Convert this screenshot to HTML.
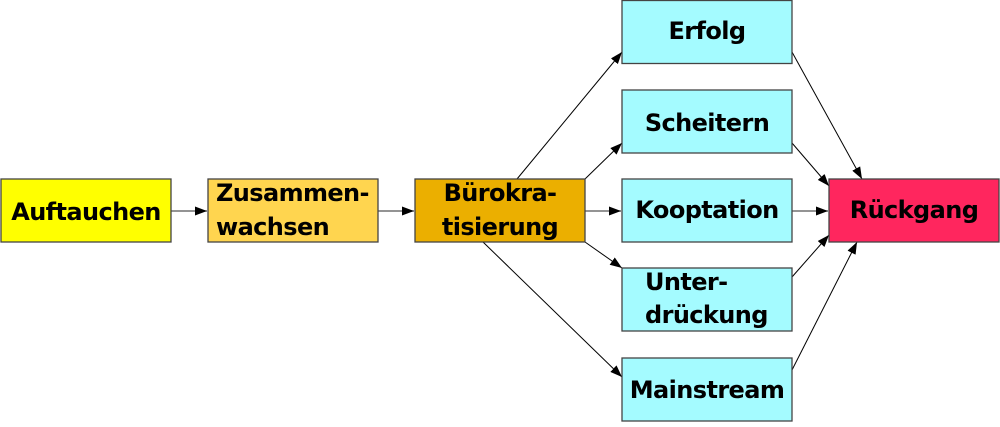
<!DOCTYPE html>
<html><head><meta charset="utf-8"><style>
html,body{margin:0;padding:0;background:#fff;}
svg text{font-family:"DejaVu Sans","Liberation Sans",sans-serif;font-weight:bold;font-size:24px;letter-spacing:-0.6px;fill:#000;}
</style></head><body>
<svg width="1000" height="422" viewBox="0 0 1000 422" xmlns="http://www.w3.org/2000/svg">
<defs>
<marker id="a" markerWidth="12" markerHeight="9" refX="12" refY="4.5" orient="auto" markerUnits="userSpaceOnUse">
<path d="M0,0 L12,4.5 L0,9 Z" fill="#000"/>
</marker>
</defs>
<g stroke="#555" stroke-width="1.3" fill="none">
<line x1="171" y1="211" x2="207" y2="211" marker-end="url(#a)"/>
<line x1="378" y1="211" x2="414" y2="211" marker-end="url(#a)"/>
<line x1="585" y1="211" x2="621" y2="211" marker-end="url(#a)"/>
<line x1="792" y1="211" x2="828" y2="211" marker-end="url(#a)"/>
</g>
<g stroke="#000" stroke-width="1" fill="none">
<line x1="517" y1="179" x2="622" y2="52" marker-end="url(#a)"/>
<line x1="585" y1="179" x2="622" y2="143" marker-end="url(#a)"/>
<line x1="585" y1="242" x2="622" y2="268" marker-end="url(#a)"/>
<line x1="483" y1="242" x2="622" y2="377" marker-end="url(#a)"/>
<line x1="792" y1="52" x2="862" y2="179" marker-end="url(#a)"/>
<line x1="792" y1="143" x2="829" y2="186" marker-end="url(#a)"/>
<line x1="792" y1="277" x2="829" y2="235" marker-end="url(#a)"/>
<line x1="792" y1="370" x2="857" y2="242" marker-end="url(#a)"/>
</g>
<g stroke="#444" stroke-width="1.3">
<rect x="1" y="179" width="170" height="63" fill="#ffff00"/>
<rect x="208" y="179" width="170" height="63" fill="#ffd54f"/>
<rect x="415" y="179" width="170" height="63" fill="#ebaf00"/>
<rect x="622" y="0.5" width="170" height="63" fill="#a4fbff"/>
<rect x="622" y="90" width="170" height="63" fill="#a4fbff"/>
<rect x="622" y="179" width="170" height="63" fill="#a4fbff"/>
<rect x="622" y="268" width="170" height="63" fill="#a4fbff"/>
<rect x="622" y="358" width="170" height="63" fill="#a4fbff"/>
<rect x="829" y="179" width="170" height="63" fill="#ff265e"/>
</g>
<text x="86" y="220" text-anchor="middle">Auftauchen</text>
<text x="216" y="201">Zusammen-</text>
<text x="216" y="235">wachsen</text>
<text x="500" y="201" text-anchor="middle">Bürokra-</text>
<text x="500" y="235" text-anchor="middle">tisierung</text>
<text x="707" y="39" text-anchor="middle">Erfolg</text>
<text x="707" y="131" text-anchor="middle">Scheitern</text>
<text x="707" y="218" text-anchor="middle">Kooptation</text>
<text x="645" y="290">Unter-</text>
<text x="645" y="323">drückung</text>
<text x="707" y="398" text-anchor="middle">Mainstream</text>
<text x="914" y="218" text-anchor="middle">Rückgang</text>
</svg>
</body></html>
